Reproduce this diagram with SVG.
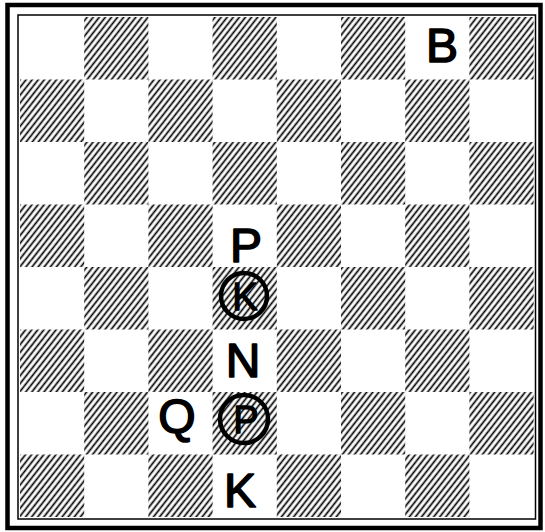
<svg xmlns="http://www.w3.org/2000/svg" width="545" height="532" viewBox="0 0 545 532">
  <defs>
    <pattern id="hatch" patternUnits="userSpaceOnUse" width="4.8" height="4.8" patternTransform="rotate(-52)">
      <rect width="4.8" height="4.8" fill="#fff"/>
      <line x1="-1" y1="2.4" x2="5.8" y2="2.4" stroke="#000" stroke-width="1.7"/>
    </pattern>
  </defs>
  <style>
    .dark { fill: url(#hatch); }
    .pc { font-family: "Liberation Sans", "DejaVu Sans", sans-serif; font-weight: normal; font-size: 48px; fill: #000; stroke: #000; stroke-width: 1.6; stroke-linejoin: round; text-anchor: middle; }
    .pcs { font-size: 38px; stroke-width: 1.3; }
    .ring { fill: none; stroke: #000; stroke-width: 4.5; }
  </style>
  <rect width="545" height="532" fill="#fff"/>
  <g id="board">
    <!-- row 1 -->
    <rect class="dark" x="84.2" y="17" width="64.2" height="62.5"/>
    <rect class="dark" x="212.6" y="17" width="64.2" height="62.5"/>
    <rect class="dark" x="341" y="17" width="64.2" height="62.5"/>
    <rect class="dark" x="469.4" y="17" width="64.2" height="62.5"/>
    <!-- row 2 -->
    <rect class="dark" x="20" y="79.5" width="64.2" height="62.5"/>
    <rect class="dark" x="148.4" y="79.5" width="64.2" height="62.5"/>
    <rect class="dark" x="276.8" y="79.5" width="64.2" height="62.5"/>
    <rect class="dark" x="405.2" y="79.5" width="64.2" height="62.5"/>
    <!-- row 3 -->
    <rect class="dark" x="84.2" y="142" width="64.2" height="62.5"/>
    <rect class="dark" x="212.6" y="142" width="64.2" height="62.5"/>
    <rect class="dark" x="341" y="142" width="64.2" height="62.5"/>
    <rect class="dark" x="469.4" y="142" width="64.2" height="62.5"/>
    <!-- row 4 -->
    <rect class="dark" x="20" y="204.5" width="64.2" height="62.5"/>
    <rect class="dark" x="148.4" y="204.5" width="64.2" height="62.5"/>
    <rect class="dark" x="276.8" y="204.5" width="64.2" height="62.5"/>
    <rect class="dark" x="405.2" y="204.5" width="64.2" height="62.5"/>
    <!-- row 5 -->
    <rect class="dark" x="84.2" y="267" width="64.2" height="62.5"/>
    <rect class="dark" x="212.6" y="267" width="64.2" height="62.5"/>
    <rect class="dark" x="341" y="267" width="64.2" height="62.5"/>
    <rect class="dark" x="469.4" y="267" width="64.2" height="62.5"/>
    <!-- row 6 -->
    <rect class="dark" x="20" y="329.5" width="64.2" height="62.5"/>
    <rect class="dark" x="148.4" y="329.5" width="64.2" height="62.5"/>
    <rect class="dark" x="276.8" y="329.5" width="64.2" height="62.5"/>
    <rect class="dark" x="405.2" y="329.5" width="64.2" height="62.5"/>
    <!-- row 7 -->
    <rect class="dark" x="84.2" y="392" width="64.2" height="62.5"/>
    <rect class="dark" x="212.6" y="392" width="64.2" height="62.5"/>
    <rect class="dark" x="341" y="392" width="64.2" height="62.5"/>
    <rect class="dark" x="469.4" y="392" width="64.2" height="62.5"/>
    <!-- row 8 -->
    <rect class="dark" x="20" y="454.5" width="64.2" height="62.5"/>
    <rect class="dark" x="148.4" y="454.5" width="64.2" height="62.5"/>
    <rect class="dark" x="276.8" y="454.5" width="64.2" height="62.5"/>
    <rect class="dark" x="405.2" y="454.5" width="64.2" height="62.5"/>
  </g>
  <g id="frame">
    <rect x="18" y="15" width="517.5" height="504" fill="none" stroke="#000" stroke-width="1.5"/>
    <rect x="7.5" y="5" width="533" height="523" fill="none" stroke="#000" stroke-width="4.5"/>
  </g>
  <g id="piece-B"><text class="pc" x="442" y="62">B</text></g>
  <g id="piece-P"><text class="pc" x="246" y="262">P</text></g>
  <g id="piece-K-circled">
    <circle class="ring" cx="244" cy="296" r="23"/>
    <text class="pc pcs" x="245" y="310">K</text>
  </g>
  <g id="piece-N"><text class="pc" x="243" y="377">N</text></g>
  <g id="piece-Q"><text class="pc" x="177" y="433">Q</text></g>
  <g id="piece-P-circled">
    <circle class="ring" cx="244" cy="419" r="24"/>
    <text class="pc pcs" x="246" y="433">P</text>
  </g>
  <g id="piece-K"><text class="pc" x="240" y="507">K</text></g>
</svg>
